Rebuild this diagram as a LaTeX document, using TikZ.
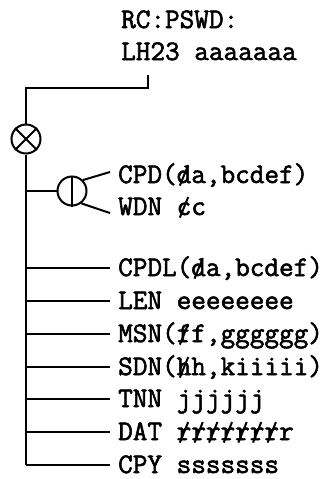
\documentclass[tikz,border=0pt]{standalone}
\usepackage{fontspec}
\newfontfamily\reffont{Latin Modern Mono}[FakeBold=2]
\newcommand\slch[1]{\ooalign{#1\cr\hidewidth\rotatebox[origin=c]{-22}{\rule[-0.12em]{0.07em}{0.78em}}\hidewidth\cr}}
\begin{document}
\begin{tikzpicture}[x=1pt,y=-1pt,
  lbl/.style={anchor=base west, inner xsep=8pt, inner ysep=0pt,
    font=\reffont\fontsize{28.4}{33}\selectfont},
  wire/.style={line width=2pt},
  lamp/.style={circle, draw, line width=2pt, minimum size=29pt, inner sep=0pt}]
\useasboundingbox (0,0) rectangle (333,479);
% top label
\node[lbl] (rc) at (113,28) {RC:PSWD:};
\node[lbl] (lh) at (113,60) {LH23 aaaaaaa};
\coordinate (tap) at (148,75);
\coordinate (corner) at (26,88);
% lamps
\node[lamp] (x) at (26,139) {};
\draw[wire] (x.45) -- (x.225) (x.135) -- (x.315);
\node[lamp] (d) at (72,191) {};
\draw[wire] (d.north) -- (d.south);
\coordinate (j0) at (26,191);
\coordinate (bot) at (26,465);
\node[lbl] (cpd) at (110,183) {CPD(\slch{d}a,bcdef)};
\node[lbl] (wdn) at (110,215) {WDN \slch{c}c};
\coordinate (e1) at (110,172);
\coordinate (e2) at (110,213);
% list
\node[lbl] (t1) at (110,276) {CPDL(\slch{d}a,bcdef)};
\node[lbl] (t2) at (110,309) {LEN eeeeeeee};
\node[lbl] (t3) at (110,342) {MSN(\slch{f}f,gggggg)};
\node[lbl] (t4) at (110,375) {SDN(\slch{h}h,kiiiii)};
\node[lbl] (t5) at (110,407) {TNN jjjjjj};
\node[lbl] (t6) at (110,440) {DAT \slch{r}\slch{r}\slch{r}\slch{r}\slch{r}\slch{r}\slch{r}r};
\node[lbl] (t7) at (110,473) {CPY sssssss};
\coordinate (j1) at (26,268);
\coordinate (j2) at (26,301);
\coordinate (j3) at (26,334);
\coordinate (j4) at (26,367);
\coordinate (j5) at (26,399);
\coordinate (j6) at (26,432);
\coordinate (j7) at (26,465);
% wires
\draw[wire] (tap) -- (tap |- corner) -- (corner) -- (x.north);
\draw[wire] (x.south) -- (bot);
\draw[wire] (j0) -- (d.west);
\draw[wire] (d.45) -- (e1);
\draw[wire] (d.-53) -- (e2);
\foreach \i in {1,...,7} {\draw[wire] (j\i) -- (j\i -| t\i.west);}
\end{tikzpicture}
\end{document}
